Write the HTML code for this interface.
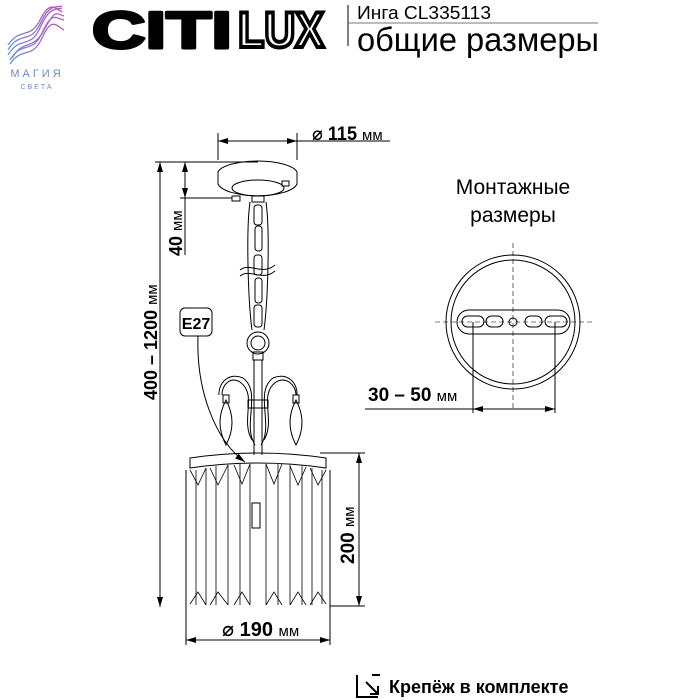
<!DOCTYPE html>
<html><head><meta charset="utf-8"><style>
body{margin:0;background:#fff}
svg{display:block}
text{font-family:"Liberation Sans","DejaVu Sans",sans-serif}
</style></head><body>
<svg width="700" height="700" viewBox="0 0 700 700" xmlns="http://www.w3.org/2000/svg">
<defs>
<linearGradient id="g" x1="0" y1="0" x2="1" y2="0"><stop offset="0" stop-color="#6b8fd6"/><stop offset="1" stop-color="#c04fc0"/></linearGradient>
<marker id="a" viewBox="0 0 10 6" refX="10" refY="3" markerWidth="13" markerHeight="6" orient="auto-start-reverse" markerUnits="userSpaceOnUse"><path d="M0,0L10,3L0,6z" fill="#000"/></marker>
</defs>
<!-- logo -->
<g fill="none" stroke="url(#g)" stroke-width="1.3">
<path d="M8,55 C20,35 30,50 40,28 S55,10 62,8"/>
<path d="M8,50 C20,30 30,45 40,24 S55,8 62,6"/>
<path d="M8,45 C20,27 30,40 40,20 S55,8 62,12"/>
<path d="M10,60 C22,40 32,55 42,33 S55,18 64,20"/>
<path d="M10,64 C22,46 32,60 42,38 S56,26 64,30"/>
<path d="M12,58 C24,38 32,52 44,30 S56,14 64,16"/>
</g>
<text x="37" y="77" font-size="11" fill="#6d8bc4" text-anchor="middle" letter-spacing="3">МАГИЯ</text>
<text x="37" y="89" font-size="7" fill="#6d8bc4" text-anchor="middle" letter-spacing="2">СВЕТА</text>
<text x="92" y="48" font-size="52" font-weight="bold" fill="#000" stroke="#000" stroke-width="3" stroke-linejoin="round" textLength="140" lengthAdjust="spacingAndGlyphs">CITI</text>
<text x="238" y="47" font-size="50" font-weight="bold" fill="#fff" stroke="#000" stroke-width="4" textLength="86" lengthAdjust="spacingAndGlyphs">LUX</text>
<line x1="348" y1="5" x2="348" y2="46" stroke="#000"/>
<line x1="348" y1="23" x2="598" y2="23" stroke="#777"/>
<text x="357" y="19" font-size="18" fill="#000" textLength="134" lengthAdjust="spacingAndGlyphs">Инга CL335113</text>
<text x="357" y="51" font-size="33" fill="#000" textLength="242" lengthAdjust="spacingAndGlyphs">общие размеры</text>

<g stroke="#000" fill="none" stroke-width="1">
<!-- 115 dim -->
<line x1="218" y1="160" x2="218" y2="133"/><line x1="297" y1="160" x2="297" y2="133"/>
<line x1="218" y1="141" x2="390" y2="141" marker-start="url(#a)"/>
<line x1="285" y1="141" x2="297" y2="141" marker-end="url(#a)"/>
<!-- vertical dims -->
<line x1="155" y1="162" x2="258" y2="162"/>
<line x1="180" y1="198" x2="232" y2="198"/>
<line x1="160" y1="162" x2="160" y2="607" marker-start="url(#a)" marker-end="url(#a)"/>
<line x1="185" y1="162" x2="185" y2="198" marker-start="url(#a)" marker-end="url(#a)"/>
<line x1="185" y1="198" x2="185" y2="255"/>
<!-- canopy -->
<path d="M218,172 A40,13 0 0 1 297,172 L297,184 A40,14 0 0 1 218,184 Z"/>
<ellipse cx="258" cy="188" rx="26" ry="8"/>
<rect x="232" y="196" width="8" height="5"/><rect x="282" y="181" width="7" height="5"/>
<rect x="252" y="196" width="12" height="6"/>
<!-- chain -->
<rect x="254" y="205" width="8" height="20" rx="3"/><rect x="255" y="226" width="7" height="25" rx="3"/>
<rect x="254" y="255" width="8" height="20" rx="3"/><rect x="255" y="278" width="7" height="25" rx="3"/>
<rect x="254" y="305" width="8" height="22" rx="3"/>
<path d="M250,202 C246,230 248,300 252,330"/><path d="M266,202 C270,230 268,300 264,330"/>
<path d="M240,270 C250,262 262,276 275,265"/><path d="M240,276 C250,268 262,282 275,271"/>
<circle cx="258" cy="343" r="11"/><circle cx="258" cy="343" r="7"/>
<rect x="253" y="352" width="10" height="8"/>
<line x1="254" y1="360" x2="254" y2="455"/><line x1="262" y1="360" x2="262" y2="455"/>
<rect x="248" y="400" width="20" height="8"/>
<!-- arms -->
<path d="M252,440 C240,420 258,395 240,382 C230,376 222,385 222,395"/>
<path d="M255,445 C242,425 262,392 243,378 C230,372 218,382 219,395"/>
<path d="M264,440 C276,420 258,395 276,382 C286,376 296,385 296,395"/>
<path d="M261,445 C274,425 254,392 273,378 C286,372 298,382 297,395"/>
<path d="M226,400 C218,415 218,430 226,445 C234,430 234,415 226,400Z"/>
<path d="M296,400 C288,415 288,430 296,445 C304,430 304,415 296,400Z"/>
<rect x="223" y="395" width="6" height="8"/><rect x="293" y="395" width="6" height="8"/>
<!-- shade -->
<path d="M190,458 Q258,448 326,458 L326,468 Q258,458 190,468Z"/>
<path d="M186,470 L186,604 M330,470 L330,604"/>
<g stroke-width="0.8">
<path d="M196,470 V605 M206,468 V605 M216,466 V605 M228,465 V605 M240,464 V605 M250,464 V605 M266,464 V605 M278,464 V605 M290,465 V605 M302,466 V605 M312,468 V605 M322,470 V604"/>
<path d="M190,470 L198,485 L206,468 M210,468 L218,485 L228,465 M234,465 L242,484 L250,464 M266,464 L274,484 L282,464 M290,466 L298,485 L306,467 M310,468 L318,485 L326,470"/>
<path d="M190,604 L198,592 L206,605 M210,605 L218,592 L228,605 M234,605 L242,592 L250,605 M266,605 L274,592 L282,605 M290,605 L298,592 L306,605 M310,605 L318,592 L326,604"/>
</g>
<rect x="252" y="503" width="8" height="25"/>
<!-- 200 -->
<line x1="320" y1="453" x2="365" y2="453"/><line x1="330" y1="606" x2="365" y2="606"/>
<line x1="359" y1="453" x2="359" y2="606" marker-start="url(#a)" marker-end="url(#a)"/>
<!-- 190 -->
<line x1="186" y1="600" x2="186" y2="645"/><line x1="330" y1="600" x2="330" y2="645"/>
<line x1="186" y1="640" x2="330" y2="640" marker-start="url(#a)" marker-end="url(#a)"/>
<!-- E27 -->
<rect x="180" y="308" width="32" height="28" rx="5"/>
<path d="M198,336 C196,390 215,440 245,462" marker-end="url(#a)"/>
<!-- mount -->
<circle cx="513" cy="322" r="67"/><circle cx="513" cy="322" r="62"/>
<rect x="457" y="310" width="113" height="24" rx="12"/>
<rect x="462" y="316" width="22" height="11" rx="5.5"/><rect x="486" y="316" width="17" height="11" rx="5.5"/>
<rect x="525" y="316" width="17" height="11" rx="5.5"/><rect x="545" y="316" width="22" height="11" rx="5.5"/>
<circle cx="513" cy="322" r="4"/>
<g stroke-dasharray="5,3" stroke-width="0.6"><line x1="513" y1="243" x2="513" y2="410"/><line x1="435" y1="322" x2="592" y2="322"/></g>
<line x1="473" y1="322" x2="473" y2="413"/><line x1="555" y1="322" x2="555" y2="413"/>
<line x1="365" y1="409" x2="473" y2="409"/>
<line x1="473" y1="409" x2="555" y2="409" marker-start="url(#a)" marker-end="url(#a)"/>
<!-- bottom icon -->
<path d="M357,675 V697 H378 M380,675 H372 M366,682 L378,694 M378,686 V694 H370" stroke-width="2"/>
</g>
<text x="312" y="140" font-size="19" font-weight="bold" textLength="45" lengthAdjust="spacingAndGlyphs">⌀ 115</text>
<text x="362" y="140" font-size="15">мм</text>
<text transform="translate(157,400) rotate(-90)" font-size="18" font-weight="bold">400 – 1200 <tspan font-weight="normal" font-size="15">мм</tspan></text>
<text transform="translate(182,256) rotate(-90)" font-size="18" font-weight="bold">40 <tspan font-weight="normal" font-size="15">мм</tspan></text>
<text x="196" y="329" font-size="16" font-weight="bold" text-anchor="middle">E27</text>
<text transform="translate(354,564) rotate(-90)" font-size="19" font-weight="bold">200 <tspan font-weight="normal" font-size="15">мм</tspan></text>
<text x="222" y="636" font-size="20" font-weight="bold">⌀ 190 <tspan font-weight="normal" font-size="15">мм</tspan></text>
<text x="513" y="194" font-size="21" text-anchor="middle">Монтажные</text>
<text x="513" y="222" font-size="21" text-anchor="middle">размеры</text>
<text x="368" y="401" font-size="19" font-weight="bold">30 – 50 <tspan font-weight="normal" font-size="15">мм</tspan></text>
<text x="389" y="693" font-size="18" font-weight="bold">Крепёж в комплекте</text>
</svg>
</body></html>
